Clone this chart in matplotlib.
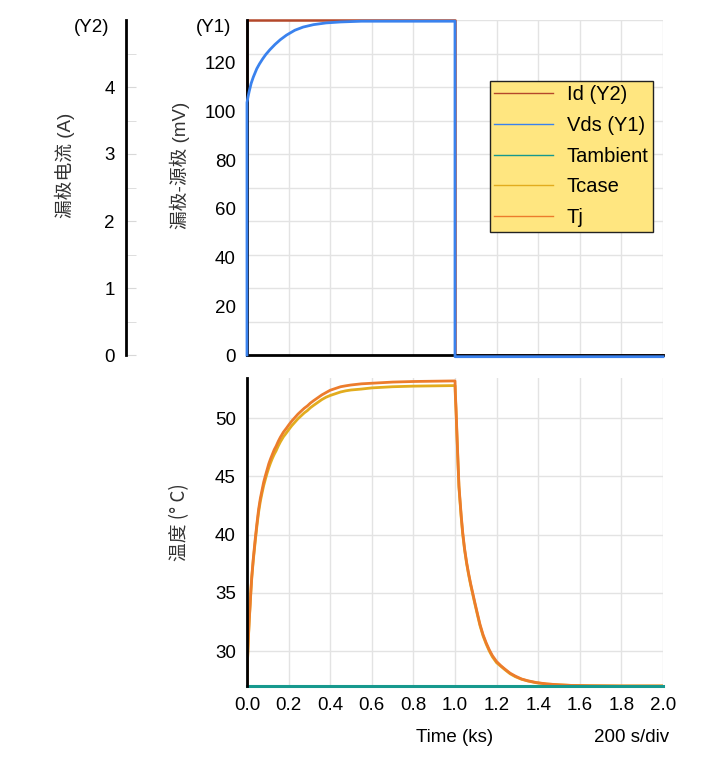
import matplotlib
matplotlib.use("Agg")
import matplotlib.pyplot as plt
from matplotlib.lines import Line2D

plt.rcParams['font.family'] = ['Liberation Sans', 'Noto Sans CJK SC', 'DejaVu Sans']
plt.rcParams['font.size'] = 13.5

# data
t_id = [0, 0, 1.0, 1.0, 2.0]
id_a = [0, 5.0, 5.0, 0, 0]

t_vds = [0, 0, 0.005, 0.01, 0.02, 0.03, 0.047, 0.06, 0.075, 0.09, 0.11, 0.135, 0.16,
         0.19, 0.23, 0.27, 0.32, 0.38, 0.45, 0.55, 0.7, 1.0, 1.0, 2.0]
vds_mv = [0, 103.6, 106.0, 108.0, 111.5, 114.0, 117.5, 119.5, 121.5, 123.3, 125.3, 127.5, 129.4,
          131.3, 133.3, 134.6, 135.6, 136.3, 136.7, 137.0, 137.0, 137.0, -0.7, -0.7]

t_temp = [0.0, 0.003, 0.007, 0.011, 0.015, 0.019, 0.023, 0.03, 0.04, 0.048,
          0.056, 0.064, 0.072, 0.08, 0.089, 0.097, 0.105, 0.113, 0.122, 0.131,
          0.14, 0.15, 0.16, 0.175, 0.19, 0.2, 0.215, 0.23, 0.245, 0.26,
          0.275, 0.29, 0.305, 0.32, 0.34, 0.36, 0.38, 0.4, 0.425, 0.45,
          0.475, 0.5, 0.55, 0.6, 0.7, 0.8, 1.0,
          1.002, 1.005, 1.008, 1.011, 1.015, 1.019, 1.024, 1.03, 1.037, 1.046,
          1.056, 1.065, 1.075, 1.085, 1.095, 1.108, 1.12, 1.135, 1.15, 1.165,
          1.18, 1.2, 1.22, 1.24, 1.265, 1.29, 1.32, 1.35, 1.39, 1.44,
          1.5, 1.56, 1.65, 1.8, 2.0]
tj = [27, 29.5, 31.3, 32.8, 34.0, 35.3, 36.4, 37.9, 39.7, 41.0,
      42.2, 43.1, 43.8, 44.5, 45.1, 45.6, 46.1, 46.5, 46.9, 47.3,
      47.6, 48.0, 48.35, 48.8, 49.15, 49.4, 49.75, 50.05, 50.35, 50.6,
      50.85, 51.05, 51.3, 51.5, 51.75, 52.0, 52.2, 52.4, 52.55, 52.7,
      52.78, 52.85, 52.95, 53.0, 53.1, 53.15, 53.2,
      52.0, 50.8, 49.3, 47.9, 46.0, 44.2, 43.0, 41.6, 40.2, 38.8,
      37.6, 36.7, 35.8, 35.0, 34.2, 33.2, 32.3, 31.4, 30.7, 30.1,
      29.6, 29.1, 28.75, 28.45, 28.1, 27.85, 27.6, 27.45, 27.3, 27.18,
      27.1, 27.05, 27.02, 27.0, 27.0]
tcase = [27, 29.45, 31.2, 32.7, 33.9, 35.2, 36.3, 37.75, 39.5, 40.8,
         41.95, 42.85, 43.55, 44.2, 44.8, 45.3, 45.75, 46.15, 46.55, 46.9,
         47.2, 47.6, 47.95, 48.4, 48.75, 49.0, 49.35, 49.65, 49.95, 50.2,
         50.45, 50.65, 50.9, 51.1, 51.35, 51.6, 51.8, 51.95, 52.1, 52.25,
         52.35, 52.42, 52.5, 52.6, 52.7, 52.75, 52.8,
         51.8, 50.6, 49.1, 47.7, 45.85, 44.05, 42.85, 41.45, 40.05, 38.7,
         37.5, 36.6, 35.7, 34.9, 34.1, 33.1, 32.2, 31.3, 30.6, 30.0,
         29.5, 29.0, 28.7, 28.4, 28.05, 27.8, 27.58, 27.43, 27.28, 27.17,
         27.1, 27.05, 27.02, 27.0, 27.0]
t_amb = [0, 2.0]
tamb = [27.0, 27.0]

x_ticks = [0.0, 0.2, 0.4, 0.6, 0.8, 1.0, 1.2, 1.4, 1.6, 1.8, 2.0]
y1_ticks = [0, 20, 40, 60, 80, 100, 120]
y2_ticks = [0, 1, 2, 3, 4]
temp_ticks = [30, 35, 40, 45, 50]

c_id = '#B4482A'
c_vds = '#3A82EE'
c_amb = '#17998E'
c_case = '#E2AC1E'
c_tj = '#EC7C2C'
grid_c = '#E3E3E3'

W, H = 718, 769
fig = plt.figure(figsize=(W / 100, H / 100), dpi=100)


def box(l, t, r, b):
    return [l / W, 1 - b / H, (r - l) / W, (b - t) / H]


# oberes Diagramm: Id auf Y2-Skala (Raster), Vds auf Y1
axI = fig.add_axes(box(247, 20, 663, 355))
axI.set_xlim(0, 2.0)
axI.set_ylim(0, 5.0)
axI.set_xticks(x_ticks)
axI.set_yticks([i * 0.5 for i in range(11)])
axI.grid(True, color=grid_c, linewidth=1)
axI.set_axisbelow(True)
axI.tick_params(length=0, labelbottom=False, labelleft=False)
for s in ['top', 'right']:
    axI.spines[s].set_visible(False)
for s in ['left', 'bottom']:
    axI.spines[s].set_linewidth(2)
    axI.spines[s].set_color('black')
axI.plot(t_id, id_a, color=c_id, lw=1.8, clip_on=False)

axV = axI.twinx()
axV.set_ylim(0, 137.5)
axV.set_yticks(y1_ticks)
axV.yaxis.set_ticks_position('left')
axV.tick_params(length=0, pad=8)
for s in axV.spines.values():
    s.set_visible(False)
axV.plot(t_vds, vds_mv, color=c_vds, lw=2.0, clip_on=False)

# separate Y2-Achse
axY2 = fig.add_axes(box(126, 20, 140, 355))
axY2.set_ylim(0, 5.0)
axY2.set_yticks(y2_ticks)
axY2.set_yticks([0.5 + i for i in range(5)], minor=True)
axY2.set_xticks([])
for s in ['top', 'right', 'bottom']:
    axY2.spines[s].set_visible(False)
axY2.spines['left'].set_linewidth(2)
axY2.patch.set_visible(False)
axY2.tick_params(axis='y', which='both', direction='in', length=7, color='#D8D8D8', pad=8)

# unteres Diagramm: Temperaturen
axT = fig.add_axes(box(247, 378, 663, 686))
axT.set_xlim(0, 2.0)
axT.set_ylim(27.0, 53.45)
axT.set_xticks(x_ticks)
axT.set_xticklabels([f'{v:.1f}' for v in x_ticks])
axT.set_yticks(temp_ticks)
axT.grid(True, color=grid_c, linewidth=1)
axT.set_axisbelow(True)
axT.tick_params(length=0, pad=8)
for s in ['top', 'right', 'bottom']:
    axT.spines[s].set_visible(False)
axT.spines['left'].set_linewidth(2)
axT.plot(t_temp, tcase, color=c_case, lw=2.0)
axT.plot(t_temp, tj, color=c_tj, lw=2.0)
axT.plot(t_amb, tamb, color=c_amb, lw=2.2, clip_on=False)

# Achsentitel
lab_c = '#333333'
fig.text(65 / W, 1 - 165 / H, '漏极电流 (A)', rotation=90, ha='center', va='center', color=lab_c)
fig.text(180 / W, 1 - 165 / H, '漏极-源极 (mV)', rotation=90, ha='center', va='center', color=lab_c)
fig.text(180 / W, 1 - 522 / H, '温度 (° C)', rotation=90, ha='center', va='center', color=lab_c,
         family=['Noto Sans CJK SC', 'DejaVu Sans'])
fig.text(92 / W, 1 - 28 / H, '(Y2)', ha='center', va='center')
fig.text(214 / W, 1 - 28 / H, '(Y1)', ha='center', va='center')
fig.text(455 / W, 1 - 738 / H, 'Time (ks)', ha='center', va='center')
fig.text(632 / W, 1 - 738 / H, '200 s/div', ha='center', va='center')

# Legende
handles = [Line2D([], [], color=c_id, lw=1),
           Line2D([], [], color=c_vds, lw=1),
           Line2D([], [], color=c_amb, lw=1),
           Line2D([], [], color=c_case, lw=1),
           Line2D([], [], color=c_tj, lw=1)]
labels = ['Id (Y2)', 'Vds (Y1)', 'Tambient', 'Tcase', 'Tj']
leg = fig.legend(handles, labels, loc='upper left', bbox_to_anchor=(490 / W, 1 - 81 / H),
                 frameon=True, fancybox=False, facecolor='#FFE680', edgecolor='#222222',
                 framealpha=1, fontsize=14.5, handlelength=2.9, handletextpad=0.7,
                 labelspacing=0.58, borderpad=0.22, borderaxespad=0)
leg.get_frame().set_linewidth(1)

fig.savefig('out.png', dpi=100)
